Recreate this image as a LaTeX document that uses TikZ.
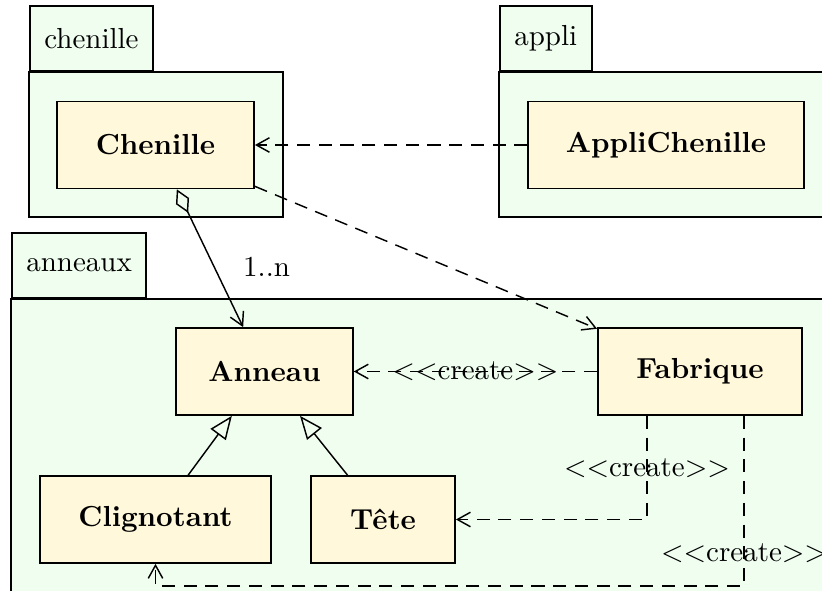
\documentclass[tikz,border=0pt]{standalone}
\usetikzlibrary{arrows.meta}
\definecolor{fondpaquet}{RGB}{240,254,240}
\definecolor{fondclasse}{RGB}{255,248,218}
\tikzset{%
  classe/.style={draw, fill=fondclasse, line width=0.6pt, font=\bfseries,
                 inner xsep=2pt, minimum height=30pt},
  paquet/.style={draw, fill=fondpaquet, line width=0.6pt},
  onglet/.style={draw, fill=fondpaquet, line width=0.6pt, inner xsep=5pt,
                 minimum height=22.4pt, anchor=south west},
  depend/.style={dash pattern=on 4.5pt off 3pt, line width=0.5pt,
                 -{Straight Barb[length=4.5pt,width=5pt]}},
  agreg/.style={line width=0.5pt,
                {Diamond[open,length=9pt,width=5pt]}-{Straight Barb[length=4.5pt,width=5pt]}},
  herit/.style={line width=0.5pt, -{Triangle[open,length=8pt,width=6.5pt]}},
}
\begin{document}
\begin{tikzpicture}[x=0.345pt,y=-0.345pt]
  \path[use as bounding box, clip] (0,0) rectangle (822,591);
  % paquets
  \draw[paquet] (29,72) rectangle (283,217);
  \node[onglet] (pchenille) at (29,72) {chenille};
  \draw[paquet] (499,72) rectangle (850,217);
  \node[onglet] (pappli) at (499,72) {appli};
  \draw[paquet] (11,299) rectangle (850,620);
  \node[onglet] (panneaux) at (11,299) {anneaux};
  % classes
  \node[classe, minimum width=68pt] (chenille) at (155.5,145) {Chenille};
  \node[classe, minimum width=95pt] (appli) at (666,145) {AppliChenille};
  \node[classe, minimum width=61pt] (anneau) at (264.5,371.5) {Anneau};
  \node[classe, minimum width=70.4pt] (fabrique) at (700,371.5) {Fabrique};
  \node[classe, minimum width=79.7pt] (clignotant) at (155.5,519.5) {Clignotant};
  \node[classe, minimum width=49.7pt] (tete) at (383,519.5) {Tête};
  % relations
  \draw[depend] (appli) -- (chenille);
  \draw[depend] (chenille) -- (fabrique);
  \draw[agreg] (chenille) -- node[pos=0.56, right=6.5pt] {1..n} (anneau);
  \draw[depend] (fabrique) -- node {$<<$create$>>$} (anneau);
  \draw[herit] (clignotant) -- (anneau);
  \draw[herit] (tete) -- (anneau);
  \draw[depend] ([xshift=-18.3pt]fabrique.south)
    |- node[pos=0.25] {$<<$create$>>$} (tete);
  \draw[depend] ([xshift=15.2pt]fabrique.south)
    -- node[pos=0.81] {$<<$create$>>$} ++(0,170) -| (clignotant);
\end{tikzpicture}
\end{document}
